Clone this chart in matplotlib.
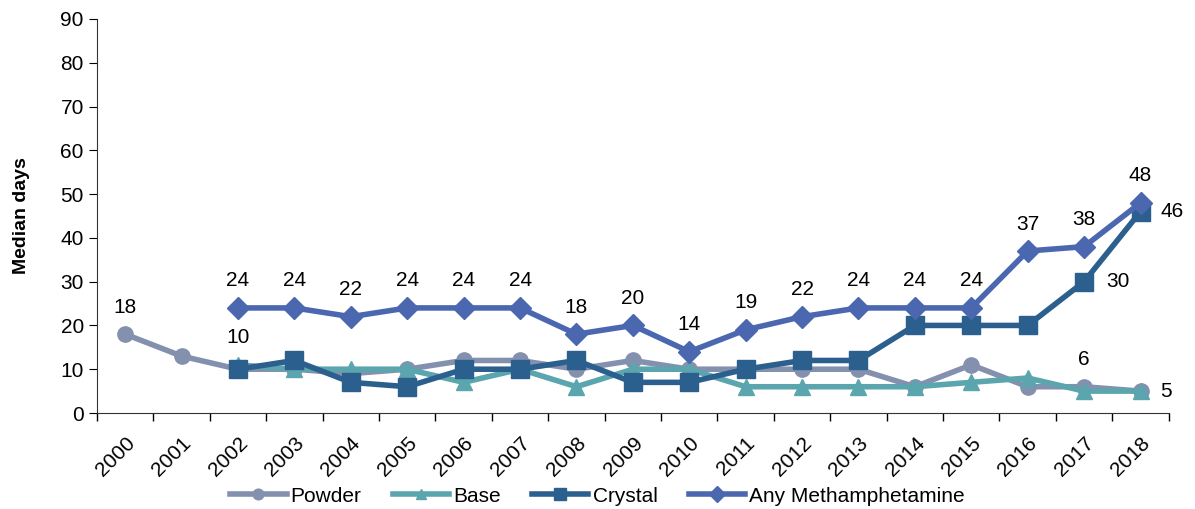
import matplotlib.pyplot as plt
import numpy as np

plt.rcParams['font.family'] = ['Liberation Sans', 'DejaVu Sans']

years = [str(y) for y in range(2000, 2019)]
powder = [18, 13, 10, 10, 9, 10, 12, 12, 10, 12, 10, 10, 10, 10, 6, 11, 6, 6, 5]
base = [None, None, 11, 10, 10, 10, 7, 10, 6, 10, 10, 6, 6, 6, 6, 7, 8, 5, 5]
crystal = [None, None, 10, 12, 7, 6, 10, 10, 12, 7, 7, 10, 12, 12, 20, 20, 20, 30, 46]
any_meth = [None, None, 24, 24, 22, 24, 24, 24, 18, 20, 14, 19, 22, 24, 24, 24, 37, 38, 48]

c_powder = '#8391AE'
c_base = '#5BA5AE'
c_crystal = '#2B5F8E'
c_any = '#4A67B0'


def to_arr(v):
    return np.array([np.nan if a is None else a for a in v], dtype=float)


fig = plt.figure(figsize=(11.95, 5.09), dpi=100)
ax = fig.add_axes([0.0812, 0.1886, 0.8968, 0.7741])

x = np.arange(len(years))
ax.plot(x, to_arr(powder), color=c_powder, lw=4, marker='o', ms=11, label='Powder')
ax.plot(x, to_arr(base), color=c_base, lw=4, marker='^', ms=11, label='Base')
ax.plot(x, to_arr(crystal), color=c_crystal, lw=4, marker='s', ms=13, label='Crystal')
ax.plot(x, to_arr(any_meth), color=c_any, lw=4, marker='D', ms=11, label='Any Methamphetamine')

fs = 15
# labels above Any Methamphetamine
for i, v in enumerate(any_meth):
    if v is not None:
        ax.text(x[i], v + 4, str(v), ha='center', va='bottom', fontsize=fs)
ax.text(x[0], powder[0] + 4, str(powder[0]), ha='center', va='bottom', fontsize=fs)
ax.text(x[2], crystal[2] + 5, str(crystal[2]), ha='center', va='bottom', fontsize=fs)
ax.text(x[17], powder[17] + 4, str(powder[17]), ha='center', va='bottom', fontsize=fs)
ax.text(x[18] + 0.35, powder[18], str(powder[18]), ha='left', va='center', fontsize=fs)
ax.text(x[17] + 0.4, crystal[17], str(crystal[17]), ha='left', va='center', fontsize=fs)
ax.text(x[18] + 0.35, crystal[18], str(crystal[18]), ha='left', va='center', fontsize=fs)

ax.set_xlim(-0.5, len(years) - 0.5)
ax.set_ylim(0, 90)
ax.set_yticks(range(0, 91, 10))
ax.set_xticks(x)
ax.set_xticklabels(years, rotation=45, ha='right', rotation_mode='anchor', fontsize=15)
ax.set_xticks(np.arange(-0.5, len(years), 1), minor=True)
ax.tick_params(axis='x', which='major', length=0, pad=15)
ax.tick_params(axis='x', which='minor', length=6, direction='out', width=1)
ax.tick_params(axis='y', labelsize=fs, length=6, direction='out')
ax.spines['top'].set_visible(False)
ax.spines['right'].set_visible(False)
ax.spines['left'].set_color('#333333')
ax.spines['bottom'].set_color('#333333')
ax.set_ylabel('Median days', fontsize=14, fontweight='bold', labelpad=22)

fig.legend(loc='lower center', bbox_to_anchor=(0.5, -0.03), ncol=4, frameon=False,
           fontsize=15, handlelength=2.7, columnspacing=1.5, handletextpad=0.2,
           markerscale=0.7)

fig.savefig('out.png', dpi=100)
